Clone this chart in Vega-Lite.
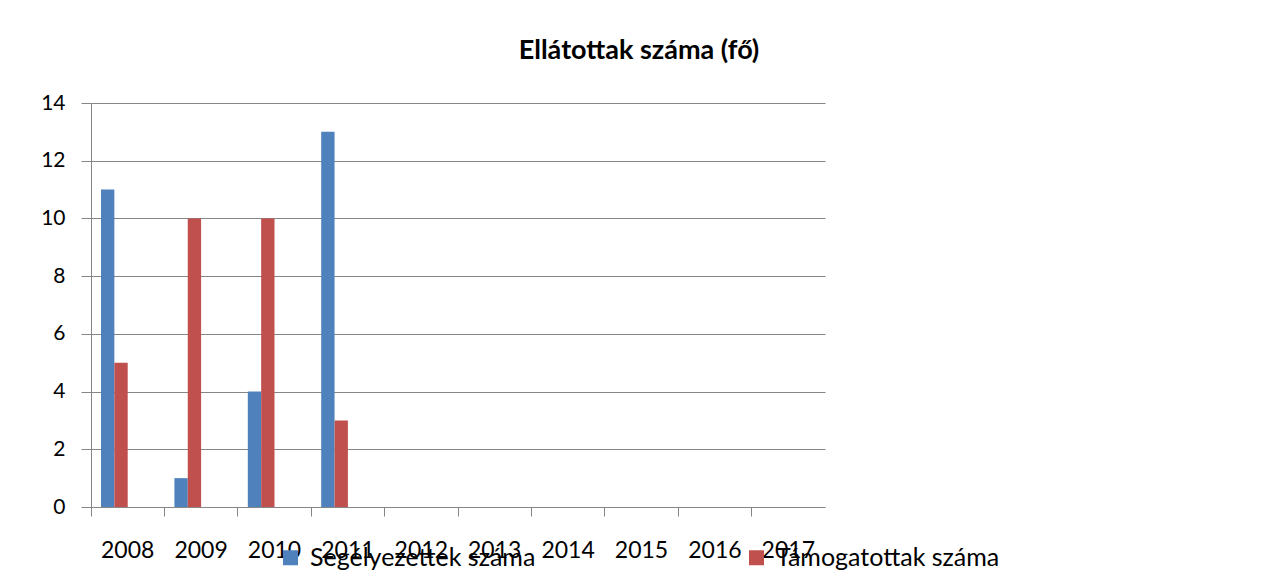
{
  "$schema": "https://vega.github.io/schema/vega-lite/v6.json",
  "width": 734,
  "height": 404,
  "autosize": {"type": "none"},
  "padding": {"left": 91, "top": 103, "right": 457, "bottom": 80},
  "background": "white",
  "title": {
    "text": "Ellátottak száma (fő)",
    "anchor": "middle",
    "frame": "group",
    "dx": 181,
    "baseline": "alphabetic",
    "offset": 6,
    "font": "Lato",
    "fontSize": 27,
    "fontWeight": "bold",
    "color": "#000000"
  },
  "data": {
    "values": [
      {"year": "2008", "series": "Segélyezettek száma", "value": 11},
      {"year": "2008", "series": "Támogatottak száma", "value": 5},
      {"year": "2009", "series": "Segélyezettek száma", "value": 1},
      {"year": "2009", "series": "Támogatottak száma", "value": 10},
      {"year": "2010", "series": "Segélyezettek száma", "value": 4},
      {"year": "2010", "series": "Támogatottak száma", "value": 10},
      {"year": "2011", "series": "Segélyezettek száma", "value": 13},
      {"year": "2011", "series": "Támogatottak száma", "value": 3}
    ]
  },
  "mark": {"type": "bar"},
  "encoding": {
    "x": {
      "field": "year",
      "type": "nominal",
      "scale": {
        "domain": ["2008", "2009", "2010", "2011", "2012", "2013", "2014", "2015", "2016", "2017"],
        "paddingInner": 0,
        "paddingOuter": 0
      },
      "axis": {
        "title": null,
        "labelAngle": 0,
        "bandPosition": 0,
        "tickSize": 9,
        "labelPadding": 23,
        "labelFont": "Lato",
        "labelFontSize": 23,
        "labelColor": "#000000",
        "domainColor": "#868686",
        "tickColor": "#868686",
        "grid": false
      }
    },
    "xOffset": {
      "field": "series",
      "type": "nominal",
      "scale": {
        "domain": ["Segélyezettek száma", "Támogatottak száma", "_s3", "_s4"],
        "paddingInner": 0,
        "paddingOuter": 0.75
      }
    },
    "y": {
      "field": "value",
      "type": "quantitative",
      "scale": {"domain": [0, 14], "nice": false},
      "axis": {
        "title": null,
        "values": [0, 2, 4, 6, 8, 10, 12, 14],
        "tickSize": 10,
        "labelPadding": 16,
        "labelFont": "Lato",
        "labelFontSize": 21,
        "labelColor": "#000000",
        "domainColor": "#868686",
        "tickColor": "#868686",
        "gridColor": "#868686",
        "gridWidth": 1
      }
    },
    "color": {
      "field": "series",
      "type": "nominal",
      "scale": {
        "domain": ["Segélyezettek száma", "Támogatottak száma"],
        "range": ["#4F81BD", "#C0504D"]
      },
      "legend": {
        "title": null,
        "orient": "none",
        "direction": "horizontal",
        "legendX": 187,
        "legendY": 442,
        "padding": 0,
        "symbolType": "square",
        "symbolSize": 225,
        "symbolStrokeWidth": 0,
        "symbolOpacity": 1,
        "labelFont": "Lato",
        "labelFontSize": 25,
        "labelColor": "#000000",
        "labelOffset": 7,
        "labelLimit": 400,
        "columnPadding": 208
      }
    }
  },
  "config": {
    "view": {"stroke": null}
  }
}
